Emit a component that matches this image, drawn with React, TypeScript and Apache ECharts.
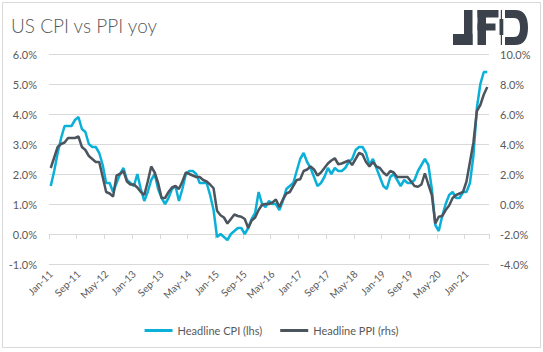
import React, { useEffect, useRef } from "react";
import * as echarts from "echarts";

const MONTHS = ["Jan", "Feb", "Mar", "Apr", "May", "Jun", "Jul", "Aug", "Sep", "Oct", "Nov", "Dec"];
const categories: string[] = [];
for (let y = 11; y <= 21; y++) {
  for (let m = 0; m < 12; m++) {
    if (y === 21 && m > 6) break;
    categories.push(`${MONTHS[m]}-${y}`);
  }
}

// Headline CPI yoy (%), Jan-11 .. Jul-21 (left axis)
const cpi: number[] = [
  1.6, 2.1, 2.7, 3.2, 3.6, 3.6, 3.6, 3.8, 3.9, 3.5, 3.4, 3.0,
  2.9, 2.9, 2.7, 2.3, 1.7, 1.7, 1.4, 1.7, 2.0, 2.2, 1.8, 1.7,
  1.6, 2.0, 1.5, 1.1, 1.4, 1.8, 2.0, 1.5, 1.2, 1.0, 1.2, 1.5,
  1.6, 1.1, 1.5, 2.0, 2.1, 2.1, 2.0, 1.7, 1.7, 1.7, 1.3, 0.8,
  -0.1, 0.0, -0.1, -0.2, 0.0, 0.1, 0.2, 0.2, 0.0, 0.2, 0.5, 0.7,
  1.4, 1.0, 0.9, 1.1, 1.0, 1.0, 0.8, 1.1, 1.5, 1.6, 1.7, 2.1,
  2.5, 2.7, 2.4, 2.2, 1.9, 1.6, 1.7, 1.9, 2.2, 2.0, 2.2, 2.1,
  2.1, 2.2, 2.4, 2.5, 2.8, 2.9, 2.9, 2.7, 2.3, 2.5, 2.2, 1.9,
  1.6, 1.5, 1.9, 2.0, 1.8, 1.6, 1.8, 1.7, 1.7, 1.8, 2.1, 2.3,
  2.5, 2.3, 1.5, 0.3, 0.1, 0.6, 1.0, 1.3, 1.4, 1.2, 1.2, 1.4,
  1.4, 1.7, 2.6, 4.2, 5.0, 5.4, 5.4,
];

// Headline PPI yoy (%), Jan-11 .. Jul-21 (right axis)
const ppi: number[] = [
  2.4, 3.1, 3.8, 4.0, 4.1, 4.4, 4.4, 4.4, 4.5, 3.8, 3.6, 3.2,
  3.0, 2.8, 2.8, 1.8, 0.8, 0.7, 0.5, 1.9, 2.0, 2.2, 1.5, 1.3,
  1.3, 1.1, 0.8, 0.6, 1.5, 2.5, 2.1, 1.4, 0.4, 0.4, 0.8, 1.1,
  1.2, 1.0, 1.5, 2.1, 2.0, 1.9, 1.8, 1.8, 1.6, 1.5, 1.3, 1.05,
  -0.45, -0.75, -0.9, -1.3, -1.0, -0.7, -0.8, -0.85, -1.0, -1.6, -1.1, -0.9,
  -0.4, -0.05, 0.0, 0.0, 0.1, 0.3, -0.2, 0.3, 0.7, 0.8, 1.2, 1.6,
  1.65, 2.2, 2.3, 2.5, 2.3, 1.9, 2.1, 2.4, 2.7, 2.9, 3.05, 2.65,
  2.7, 2.8, 2.9, 2.6, 3.0, 3.4, 3.3, 2.8, 2.5, 2.8, 2.5, 2.4,
  2.1, 1.9, 2.2, 2.1, 1.8, 1.8, 1.8, 1.8, 1.5, 1.2, 1.15, 1.3,
  2.05, 1.3, 0.6, -1.3, -0.85, -0.8, -0.4, -0.1, 0.4, 0.6, 0.7, 0.8,
  1.5, 2.8, 4.1, 6.2, 6.6, 7.3, 7.8,
];

const seriesNames = ["Headline CPI (lhs)", "Headline PPI (rhs)"];
const title = "US CPI vs PPI yoy";

const CPI_COLOR = "#0BB0D8";
const PPI_COLOR = "#4C545E";
const LOGO_COLOR = "#3B424C";
const TEXT_COLOR = "#595959";
const GRID_COLOR = "#D9D9D9";
const FONT = "Lato, 'Noto Sans', sans-serif";

let registered = false;
function registerLogo() {
  if (registered) return;
  registered = true;
  echarts.graphic.registerShape(
    "logoD",
    echarts.graphic.extendPath(
      "M0 0 H10 C19 0 23 6 23 17.5 C23 29 19 35 10 35 H0 V27 H9 C13 27 15 24 15 17.5 C15 11 13 8 9 8 H0 Z",
      {}
    ) as any
  );
}

export default function App() {
  const ref = useRef<HTMLDivElement>(null);

  useEffect(() => {
    if (!ref.current) return;
    registerLogo();
    const chart = echarts.init(ref.current, undefined, { renderer: "svg" });
    const pct = (v: number) => v.toFixed(1) + "%";
    const lx = 453;
    const ly = 10;
    chart.setOption({
      animation: false,
      backgroundColor: "#ffffff",
      grid: { left: 49, right: 54, top: 54, height: 210 },
      legend: {
        data: seriesNames,
        left: "center",
        top: 320,
        icon: "rect",
        itemWidth: 28,
        itemHeight: 3,
        itemGap: 18,
        textStyle: { color: TEXT_COLOR, fontSize: 11, fontFamily: FONT },
      },
      xAxis: [
        {
          type: "category",
          data: categories,
          boundaryGap: true,
          axisLine: { onZero: true, onZeroAxisIndex: 0, lineStyle: { color: GRID_COLOR, width: 1 } },
          axisTick: { show: true, interval: 7, length: 5, lineStyle: { color: GRID_COLOR } },
          axisLabel: { show: false },
          splitLine: { show: false },
        },
        {
          type: "category",
          data: categories,
          position: "bottom",
          boundaryGap: true,
          axisLine: { show: false, onZero: false },
          axisTick: { show: false },
          axisLabel: {
            interval: 7,
            rotate: 45,
            fontSize: 10,
            color: TEXT_COLOR,
            fontFamily: FONT,
            margin: 8,
          },
          splitLine: { show: false },
        },
      ],
      yAxis: [
        {
          type: "value",
          min: -1,
          max: 6,
          interval: 1,
          axisLine: { show: false },
          axisTick: { show: false },
          axisLabel: { formatter: pct, color: TEXT_COLOR, fontSize: 11, fontFamily: FONT, margin: 12 },
          splitLine: { show: true, lineStyle: { color: GRID_COLOR, width: 1 } },
        },
        {
          type: "value",
          min: -4,
          max: 10,
          interval: 2,
          position: "right",
          axisLine: { show: false },
          axisTick: { show: false },
          axisLabel: { formatter: pct, color: TEXT_COLOR, fontSize: 11, fontFamily: FONT, margin: 11 },
          splitLine: { show: false },
        },
      ],
      series: [
        {
          name: seriesNames[0],
          type: "line",
          data: cpi,
          xAxisIndex: 0,
          yAxisIndex: 0,
          symbol: "none",
          color: CPI_COLOR,
          lineStyle: { color: CPI_COLOR, width: 2.5 },
          z: 2,
        },
        {
          name: seriesNames[1],
          type: "line",
          data: ppi,
          xAxisIndex: 0,
          yAxisIndex: 1,
          symbol: "none",
          color: PPI_COLOR,
          lineStyle: { color: PPI_COLOR, width: 2.5 },
          z: 3,
        },
      ],
      graphic: [
        {
          type: "rect",
          silent: true,
          shape: { x: 2.5, y: 2.5, width: 538, height: 345 },
          style: { fill: "none", stroke: GRID_COLOR, lineWidth: 1 },
          z: -1,
        },
        {
          type: "text",
          left: 11,
          top: 16,
          style: {
            text: title,
            fill: TEXT_COLOR,
            fontSize: 19,
            fontWeight: 300,
            fontFamily: FONT,
          },
        },
        {
          type: "group",
          children: [
            // J
            { type: "rect", shape: { x: lx + 11, y: ly, width: 8.5, height: 35 }, style: { fill: LOGO_COLOR } },
            { type: "rect", shape: { x: lx, y: ly + 24, width: 19.5, height: 11 }, style: { fill: LOGO_COLOR } },
            // F
            { type: "rect", shape: { x: lx + 24.5, y: ly, width: 8.5, height: 35 }, style: { fill: LOGO_COLOR } },
            { type: "rect", shape: { x: lx + 24.5, y: ly, width: 21, height: 7.5 }, style: { fill: LOGO_COLOR } },
            { type: "rect", shape: { x: lx + 24.5, y: ly + 13.5, width: 18, height: 7 }, style: { fill: LOGO_COLOR } },
            // candle
            { type: "rect", shape: { x: lx + 47.8, y: ly, width: 1.2, height: 35 }, style: { fill: LOGO_COLOR } },
            { type: "rect", shape: { x: lx + 46.5, y: ly + 9, width: 3.8, height: 16 }, style: { fill: LOGO_COLOR } },
            // D
            { type: "logoD", x: lx + 52, y: ly, style: { fill: LOGO_COLOR } },
          ],
        },
      ],
    });
    return () => chart.dispose();
  }, []);

  return (
    <div
      ref={ref}
      style={{ position: "fixed", left: 0, top: 0, width: 543, height: 352, background: "#fff" }}
    />
  );
}
